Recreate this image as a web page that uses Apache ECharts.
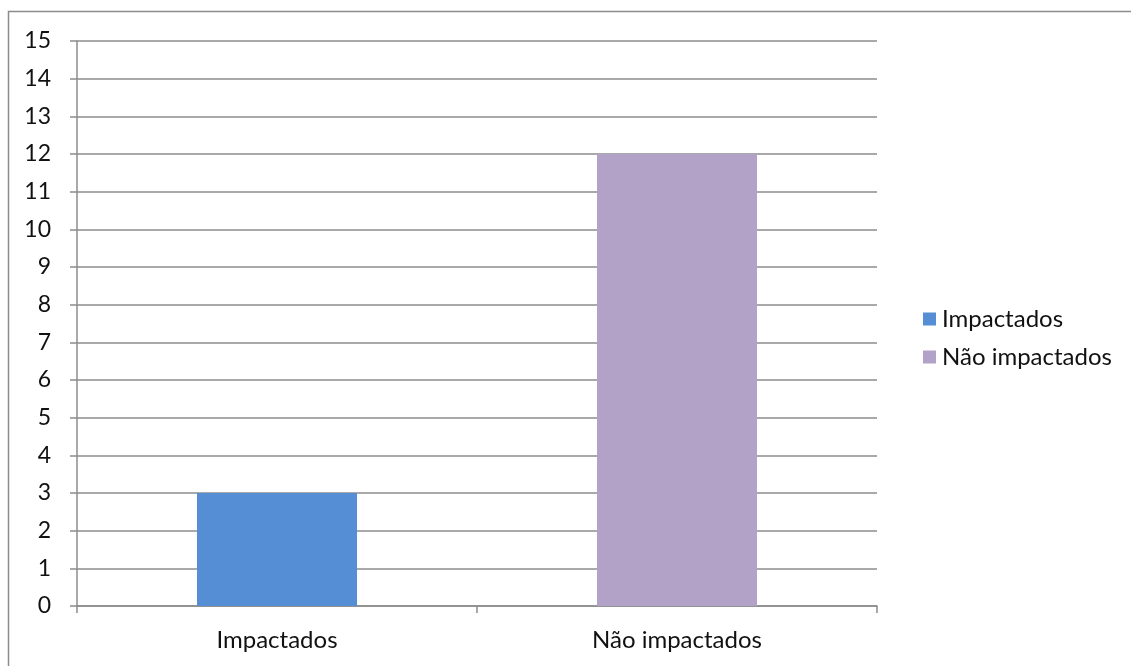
<!DOCTYPE html>
<html>
<head>
<meta charset="utf-8">
<script src="https://cdn.jsdelivr.net/npm/echarts@6/dist/echarts.min.js"></script>
<style>
  html, body { margin: 0; padding: 0; background: #fff; }
  #chart { width: 1131px; height: 666px; }
</style>
</head>
<body>
<div id="chart"></div>
<script>
// Categories and counts
const categories = ['Impactados', 'Não impactados'];
const seriesNames = ['Impactados', 'Não impactados'];
const impactados = [3, '-'];
const naoImpactados = ['-', 12];
const colors = ['#558ed5', '#b3a2c7'];

const font = "Lato, 'Noto Sans', sans-serif";
const chart = echarts.init(document.getElementById('chart'));

chart.setOption({
  animation: false,
  backgroundColor: '#ffffff',
  graphic: [{
    type: 'rect',
    shape: { x: 8.5, y: 11.5, width: 1200, height: 800 },
    style: { fill: 'none', stroke: '#8c8c8c', lineWidth: 1.5 },
    silent: true
  }],
  grid: { left: 77, right: 254, top: 41, bottom: 60, containLabel: false },
  legend: {
    orient: 'vertical',
    left: 918,
    top: 302,
    itemWidth: 13,
    itemHeight: 13,
    itemGap: 14,
    icon: 'rect',
    textStyle: { fontFamily: font, fontSize: 24, color: '#111', padding: [0, 0, 0, 1] },
    data: seriesNames
  },
  xAxis: {
    type: 'category',
    data: categories,
    axisLine: { lineStyle: { color: '#8c8c8c', width: 1.5 } },
    axisTick: { show: true, length: 7, alignWithLabel: false, lineStyle: { color: '#8c8c8c', width: 1.5 } },
    axisLabel: { fontFamily: font, fontSize: 24, color: '#111', margin: 22 }
  },
  yAxis: {
    type: 'value',
    min: 0,
    max: 15,
    interval: 1,
    axisLine: { show: true, lineStyle: { color: '#8c8c8c', width: 1.5 } },
    axisTick: { show: true, length: 7, lineStyle: { color: '#8c8c8c', width: 1.5 } },
    axisLabel: { fontFamily: font, fontSize: 23, color: '#111', margin: 26 },
    splitLine: { show: true, lineStyle: { color: '#8c8c8c', width: 1.5 } }
  },
  series: [
    {
      name: seriesNames[0],
      type: 'bar',
      data: impactados,
      barWidth: '40%',
      barGap: '-100%',
      itemStyle: { color: colors[0] }
    },
    {
      name: seriesNames[1],
      type: 'bar',
      data: naoImpactados,
      barWidth: '40%',
      barGap: '-100%',
      itemStyle: { color: colors[1] }
    }
  ]
});
</script>
</body>
</html>
